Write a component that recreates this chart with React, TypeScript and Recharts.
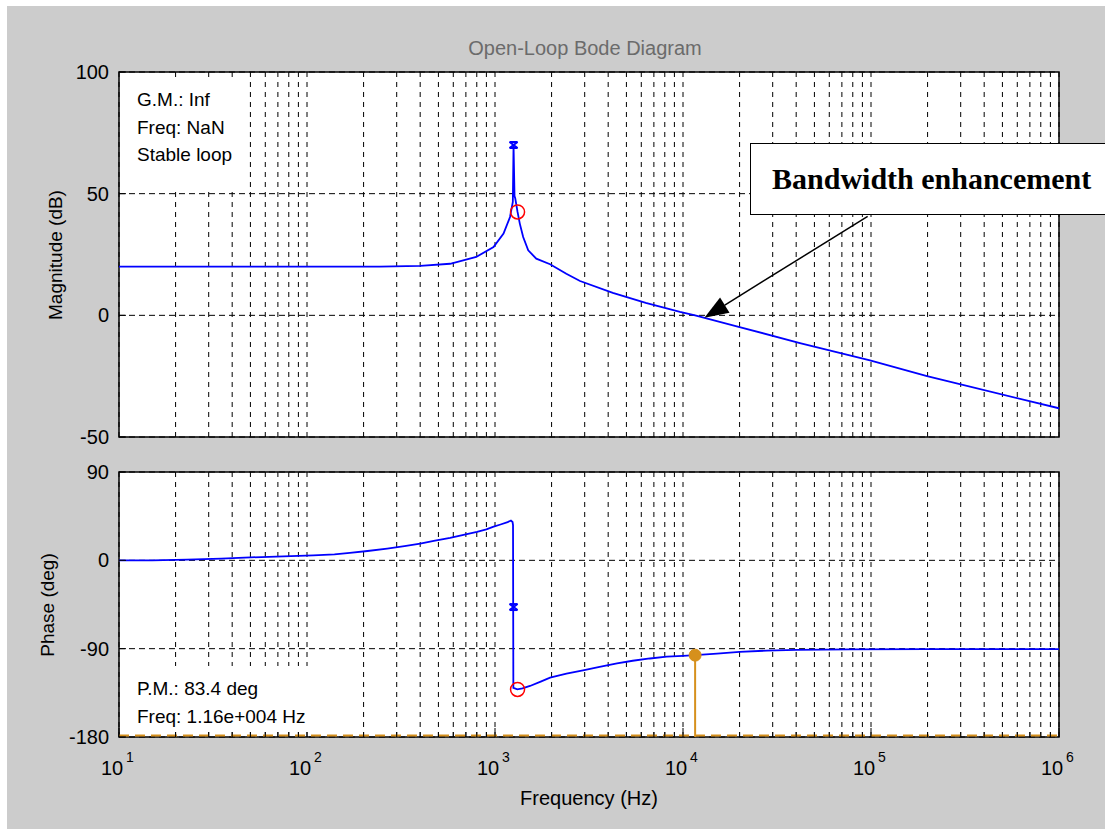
import React from "react";
import {
  LineChart,
  Line,
  XAxis,
  YAxis,
  CartesianGrid,
  ReferenceLine,
  ReferenceDot,
  ReferenceArea,
} from "recharts";

// log axis: decades 10^1 .. 10^6, grid on every 1..9 multiple
const decadeExponents = [1, 2, 3, 4, 5];
const minorSteps = [1, 2, 3, 4, 5, 6, 7, 8, 9];
const lastDecade = 1e6;

const magTicks = [-50, 0, 50, 100];
const phaseTicks = [-180, -90, 0, 90];

// open-loop magnitude (Hz, dB)
const magFreq = [
  10, 100, 244, 400, 577, 795, 982, 1110, 1202, 1244, 1255, 1270, 1282, 1318,
  1355, 1412, 1502, 1658, 1963, 2395, 2833, 4234, 6338, 9636, 11600, 20000,
  41880, 98800, 198600, 1000000,
];
const magDb = [
  20, 20, 20, 20.3, 21.2, 24, 28.1, 33.6, 40.4, 46.6, 70, 49, 48, 42.5, 37.7,
  32.2, 26.7, 23.3, 21, 17.1, 14.1, 9.2, 5.1, 1.4, 0, -4.8, -11.4, -18.5, -25,
  -38.2,
];

// open-loop phase (Hz, deg)
const phaseFreq = [
  10, 15, 23, 35, 50, 75, 108, 140, 169, 210, 267, 330, 400, 480, 577, 680, 802,
  900, 975, 1070, 1167, 1215, 1240, 1247, 1252, 1315, 1400, 1535, 1750, 1963,
  2400, 2938, 3600, 4457, 5400, 6668, 8200, 10000, 11600, 15170, 20000, 27990,
  40000, 77270, 200000, 1000000,
];
const phaseDeg = [
  0, 0, 0.7, 1.8, 3, 4, 5, 6, 7.5, 9.5, 12, 14.5, 17, 20, 23, 26, 29, 31.5, 34,
  36.5, 39, 40.5, 39, 36, -130, -131.5, -130.5, -128, -123.5, -119.5, -115.5,
  -112, -108.5, -105, -102.3, -100, -98.2, -97.3, -96.6, -95, -93.2, -92,
  -91.3, -90.8, -90.5, -90.4,
];

// margin readouts
const pmFreq = 11600;
const pmPhase = -96.6;
const poleFreq = 1255;
const poleDb = 70;
const polePhase = -47.6;
const zeroFreq = 1318;
const zeroDb = 42.5;
const zeroPhase = -131.5;
const arrowTail = { f: 96000, db: 40.7 };
const arrowHead = { f: 13000, db: -1 };

const gridFreqs = decadeExponents
  .flatMap((e) => minorSteps.map((s) => s * 10 ** e))
  .concat([lastDecade]);

const magData = magFreq.map((f, i) => ({ f, v: magDb[i] }));
const phaseData = phaseFreq.map((f, i) => ({ f, v: phaseDeg[i] }));

const SANS = '"Liberation Sans", Arial, Helvetica, sans-serif';
const BLUE = "#0000ff";
const ORANGE = "#d6901c";
const RED = "#ff0000";

const isDecade = (v: number) => {
  const e = Math.round(Math.log10(v));
  return Math.abs(v - 10 ** e) < 1e-6;
};

// inward tick marks; labels only on the lowest axis
const FreqTick = (props: any) => {
  const { x, y, payload, labelled, down } = props;
  const v = payload.value;
  const e = Math.round(Math.log10(v));
  const dec = isDecade(v);
  const len = dec ? 9 : 5;
  return (
    <g>
      <line x1={x} x2={x} y1={y} y2={down ? y + len : y - len} stroke="#000" />
      {labelled && dec && (
        <>
          <text x={x - 7} y={y + 38} textAnchor="middle" fontSize={20} fill="#000">
            10
          </text>
          <text x={x + 7} y={y + 25} fontSize={14} fill="#000">
            {e}
          </text>
        </>
      )}
    </g>
  );
};

const ValueTick = (props: any) => {
  const { x, y, payload, right } = props;
  if (right) {
    return <line x1={x} x2={x - 7} y1={y} y2={y} stroke="#000" />;
  }
  return (
    <g>
      <line x1={x} x2={x + 7} y1={y} y2={y} stroke="#000" />
      <text x={x - 10} y={y} dy={7} textAnchor="end" fontSize={20} fill="#000">
        {payload.value}
      </text>
    </g>
  );
};

const PoleMark = (props: any) => {
  const { cx, cy } = props;
  return (
    <g stroke={BLUE} strokeWidth={2}>
      <line x1={cx - 4} y1={cy - 3} x2={cx + 4} y2={cy + 3} />
      <line x1={cx + 4} y1={cy - 3} x2={cx - 4} y2={cy + 3} />
      <line x1={cx - 4} y1={cy - 3} x2={cx + 4} y2={cy - 3} />
      <line x1={cx - 4} y1={cy + 3} x2={cx + 4} y2={cy + 3} />
    </g>
  );
};

const Arrow = (props: any) => {
  const { x1, y1, x2, y2 } = props;
  const ang = Math.atan2(y2 - y1, x2 - x1);
  const len = 24;
  const half = 9;
  const bx = x2 - len * Math.cos(ang);
  const by = y2 - len * Math.sin(ang);
  const px = -Math.sin(ang) * half;
  const py = Math.cos(ang) * half;
  return (
    <g>
      <line x1={x1} y1={y1} x2={bx} y2={by} stroke="#000" strokeWidth={1.5} />
      <polygon
        points={`${x2},${y2} ${bx + px},${by + py} ${bx - px},${by - py}`}
        fill="#000"
      />
    </g>
  );
};

const xAxisProps = {
  dataKey: "f",
  type: "number" as const,
  scale: "log" as const,
  domain: [10, 1e6],
  ticks: gridFreqs,
  interval: 0,
  allowDataOverflow: true,
  axisLine: false,
  tickLine: false,
  tickSize: 0,
  tickMargin: 0,
};

const yAxisProps = {
  type: "number" as const,
  axisLine: false,
  tickLine: false,
  tickSize: 0,
  tickMargin: 0,
  interval: 0,
};

export default function App() {
  return (
    <div
      style={{
        position: "absolute",
        left: 0,
        top: 0,
        width: 1105,
        height: 829,
        background: "#fff",
        fontFamily: SANS,
        overflow: "hidden",
      }}
    >
      <div
        style={{
          position: "absolute",
          left: 7,
          top: 6,
          right: 0,
          bottom: 0,
          background: "#cccccc",
        }}
      />

      {/* magnitude panel */}
      <div style={{ position: "absolute", left: 0, top: 0 }}>
        <LineChart
          width={1105}
          height={460}
          data={magData}
          margin={{ top: 72, right: 46, bottom: 23, left: 39 }}
        >
          <CartesianGrid fill="#fff" vertical={false} stroke="#000" strokeDasharray="6 4" />
          <CartesianGrid horizontal={false} stroke="#000" strokeDasharray="5 5" />
          <XAxis {...xAxisProps} height={0} tick={<FreqTick />} />
          <XAxis
            {...xAxisProps}
            xAxisId="top"
            orientation="top"
            height={0}
            tick={<FreqTick down />}
          />
          <YAxis
            {...yAxisProps}
            width={80}
            domain={[-50, 100]}
            ticks={magTicks}
            tick={<ValueTick />}
          />
          <YAxis
            {...yAxisProps}
            yAxisId="right"
            orientation="right"
            width={0}
            domain={[-50, 100]}
            ticks={magTicks}
            tick={<ValueTick right />}
          />
          <ReferenceArea
            x1={10}
            x2={1e6}
            y1={-50}
            y2={100}
            fill="none"
            stroke="#000"
            strokeWidth={1.5}
          />
          <Line
            dataKey="v"
            type="linear"
            stroke={BLUE}
            strokeWidth={1.8}
            dot={false}
            isAnimationActive={false}
          />
          <ReferenceDot x={poleFreq} y={poleDb} r={4} shape={<PoleMark />} />
          <ReferenceDot
            x={zeroFreq}
            y={zeroDb}
            r={7}
            fill="none"
            stroke={RED}
            strokeWidth={1.5}
          />
          <ReferenceLine
            segment={[
              { x: arrowTail.f, y: arrowTail.db },
              { x: arrowHead.f, y: arrowHead.db },
            ]}
            shape={<Arrow />}
          />
        </LineChart>
      </div>

      {/* phase panel */}
      <div style={{ position: "absolute", left: 0, top: 440 }}>
        <LineChart
          width={1105}
          height={389}
          data={phaseData}
          margin={{ top: 32, right: 46, bottom: 52, left: 39 }}
        >
          <CartesianGrid fill="#fff" vertical={false} stroke="#000" strokeDasharray="6 4" />
          <CartesianGrid horizontal={false} stroke="#000" strokeDasharray="5 5" />
          <XAxis {...xAxisProps} height={40} tick={<FreqTick labelled />} />
          <XAxis
            {...xAxisProps}
            xAxisId="top"
            orientation="top"
            height={0}
            tick={<FreqTick down />}
          />
          <YAxis
            {...yAxisProps}
            width={80}
            domain={[-180, 90]}
            ticks={phaseTicks}
            tick={<ValueTick />}
          />
          <YAxis
            {...yAxisProps}
            yAxisId="right"
            orientation="right"
            width={0}
            domain={[-180, 90]}
            ticks={phaseTicks}
            tick={<ValueTick right />}
          />
          <ReferenceArea
            x1={10}
            x2={1e6}
            y1={-180}
            y2={90}
            fill="none"
            stroke="#000"
            strokeWidth={1.5}
          />
          <ReferenceLine
            y={-178.5}
            stroke={ORANGE}
            strokeWidth={2}
            strokeDasharray="10 6"
          />
          <ReferenceLine
            segment={[
              { x: pmFreq, y: pmPhase },
              { x: pmFreq, y: -180 },
            ]}
            stroke={ORANGE}
            strokeWidth={2}
          />
          <Line
            dataKey="v"
            type="linear"
            stroke={BLUE}
            strokeWidth={1.8}
            dot={false}
            isAnimationActive={false}
          />
          <ReferenceDot x={pmFreq} y={pmPhase} r={6} fill={ORANGE} stroke={ORANGE} />
          <ReferenceDot x={poleFreq} y={polePhase} r={4} shape={<PoleMark />} />
          <ReferenceDot
            x={zeroFreq}
            y={zeroPhase}
            r={7}
            fill="none"
            stroke={RED}
            strokeWidth={1.5}
          />
        </LineChart>
      </div>

      {/* titles and axis labels */}
      <svg
        width={1105}
        height={829}
        style={{ position: "absolute", left: 0, top: 0, pointerEvents: "none" }}
      >
        <text x={585} y={55} textAnchor="middle" fontSize={20} fill="#6b6b6b">
          Open-Loop Bode Diagram
        </text>
        <text
          x={55}
          y={255}
          textAnchor="middle"
          dominantBaseline="central"
          fontSize={19}
          transform="rotate(-90 55 255)"
        >
          Magnitude (dB)
        </text>
        <text
          x={47}
          y={605}
          textAnchor="middle"
          dominantBaseline="central"
          fontSize={19}
          transform="rotate(-90 47 605)"
        >
          Phase (deg)
        </text>
        <text x={589} y={805} textAnchor="middle" fontSize={20}>
          Frequency (Hz)
        </text>
      </svg>

      {/* gain margin readout */}
      <div
        style={{
          position: "absolute",
          left: 120,
          top: 81,
          width: 126,
          height: 111,
          background: "#fff",
          fontSize: 19,
          lineHeight: "27.5px",
          paddingLeft: 17,
          paddingTop: 5,
          boxSizing: "border-box",
          color: "#000",
        }}
      >
        <div>G.M.: Inf</div>
        <div>Freq: NaN</div>
        <div>Stable loop</div>
      </div>

      {/* phase margin readout */}
      <div
        style={{
          position: "absolute",
          left: 120,
          top: 666,
          width: 203,
          height: 66,
          background: "#fff",
          fontSize: 19,
          lineHeight: "28px",
          paddingLeft: 17,
          paddingTop: 9,
          boxSizing: "border-box",
          color: "#000",
        }}
      >
        <div>P.M.: 83.4 deg</div>
        <div>Freq: 1.16e+004 Hz</div>
      </div>

      {/* callout */}
      <div
        style={{
          position: "absolute",
          left: 750,
          top: 143,
          width: 370,
          height: 72,
          background: "#fff",
          border: "1px solid #000",
          boxSizing: "border-box",
          fontFamily: '"Liberation Serif", "Times New Roman", serif',
          fontWeight: "bold",
          fontSize: 30,
          lineHeight: "70px",
          paddingLeft: 21,
          color: "#000",
        }}
      >
        Bandwidth enhancement
      </div>
    </div>
  );
}
